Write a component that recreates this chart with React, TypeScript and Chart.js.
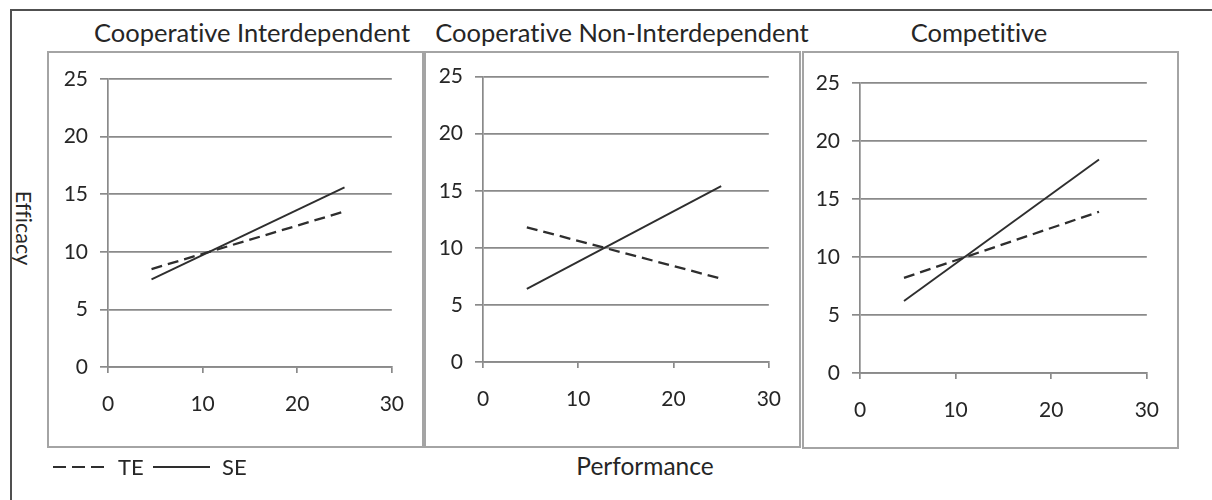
import React, { useEffect, useRef } from "react";
import { Chart, registerables } from "chart.js";

Chart.register(...registerables);

// ---- data ----
const panelTitles = ["Cooperative Interdependent", "Cooperative Non-Interdependent", "Competitive"];
const performanceX = [4.6, 25];
const coopInterTE = [8.5, 13.5];
const coopInterSE = [7.6, 15.6];
const coopNonTE = [11.8, 7.3];
const coopNonSE = [6.4, 15.4];
const compTE = [8.2, 13.9];
const compSE = [6.2, 18.4];
const yTicks = [0, 5, 10, 15, 20, 25];
const xTicks = [0, 10, 20, 30];
const seriesNames = ["TE", "SE"];
const xAxisTitle = "Performance";
const yAxisTitle = "Efficacy";

const FONT = "Lato, 'Open Sans', sans-serif";
const LINE = "#2e2e2e";
const GRID = "#8a8a8a";
const TEXT = "#262626";

type Box = { l: number; t: number; r: number; b: number };
type PanelSpec = { title: string; titleCx: number; te: number[]; se: number[]; box: Box; plot: Box };

const panels: PanelSpec[] = [
  { title: panelTitles[0], titleCx: 252, te: coopInterTE, se: coopInterSE,
    box: { l: 48, t: 52, r: 423, b: 447 }, plot: { l: 108, t: 79, r: 397, b: 367 } },
  { title: panelTitles[1], titleCx: 622, te: coopNonTE, se: coopNonSE,
    box: { l: 425, t: 52, r: 800, b: 447 }, plot: { l: 483, t: 74, r: 772, b: 362 } },
  { title: panelTitles[2], titleCx: 979, te: compTE, se: compSE,
    box: { l: 803, t: 52, r: 1178, b: 448 }, plot: { l: 860, t: 83, r: 1150, b: 373 } },
];

const textStyle: React.CSSProperties = { fontFamily: FONT, color: TEXT, lineHeight: "normal",
  whiteSpace: "nowrap", fontVariantLigatures: "none" };

function Panel({ spec }: { spec: PanelSpec }) {
  const ref = useRef<HTMLCanvasElement | null>(null);
  const { box, plot } = spec;
  const w = box.r - box.l;
  const h = box.b - box.t;
  useEffect(() => {
    if (!ref.current) return;
    const toPts = (ys: number[]) => ys.map((y, i) => ({ x: performanceX[i], y }));
    const chart = new Chart(ref.current, {
      type: "line",
      data: {
        datasets: [
          { label: seriesNames[0], data: toPts(spec.te), borderColor: LINE, borderWidth: 2.3,
            borderDash: [11, 6], pointRadius: 0, fill: false, tension: 0 },
          { label: seriesNames[1], data: toPts(spec.se), borderColor: LINE, borderWidth: 1.9,
            pointRadius: 0, fill: false, tension: 0 },
        ],
      },
      options: {
        responsive: false,
        animation: false,
        events: [],
        layout: { padding: { left: 0, top: plot.t - box.t, right: box.r - plot.r, bottom: 0 } },
        plugins: { legend: { display: false }, title: { display: false }, tooltip: { enabled: false } },
        scales: {
          x: {
            type: "linear",
            min: xTicks[0],
            max: xTicks[xTicks.length - 1],
            afterBuildTicks: (s: any) => { s.ticks = xTicks.map((v) => ({ value: v })); },
            afterFit: (s: any) => { s.height = box.b - plot.b; },
            grid: { drawOnChartArea: false, drawTicks: true, tickLength: 6, color: GRID, lineWidth: 1.7 },
            border: { display: true, color: GRID, width: 1.7 },
            ticks: { color: TEXT, padding: 19, font: { family: FONT, size: 21 }, maxRotation: 0 },
          },
          y: {
            type: "linear",
            min: yTicks[0],
            max: yTicks[yTicks.length - 1],
            afterBuildTicks: (s: any) => { s.ticks = yTicks.map((v) => ({ value: v })); },
            afterFit: (s: any) => { s.width = plot.l - box.l; },
            grid: { drawOnChartArea: true, drawTicks: true, tickLength: 8, color: GRID, lineWidth: 1.7 },
            border: { display: true, color: GRID, width: 1.7 },
            ticks: { color: TEXT, padding: 12, font: { family: FONT, size: 21 } },
          },
        },
      },
    });
    return () => chart.destroy();
  }, []);
  return (
    <>
      <div style={{ ...textStyle, position: "absolute", left: spec.titleCx - 250, width: 500, top: 17,
        textAlign: "center", fontSize: 25.5 }}>
        {spec.title}
      </div>
      <div style={{ position: "absolute", left: box.l - 1, top: box.t - 1, width: w + 2, height: h + 2,
        border: "2px solid #a4a4a4", boxSizing: "border-box" }} />
      <canvas ref={ref} width={w} height={h}
        style={{ position: "absolute", left: box.l, top: box.t, width: w, height: h }} />
    </>
  );
}

export default function App() {
  return (
    <div style={{ position: "absolute", left: 0, top: 0, width: 1212, height: 500, background: "#fff",
      overflow: "hidden", fontFamily: FONT }}>
      <div style={{ position: "absolute", left: 10, top: 9, width: 1202, height: 491,
        borderTop: "2px solid #505050", borderLeft: "2px solid #505050", boxSizing: "border-box" }} />
      {panels.map((p, i) => <Panel key={i} spec={p} />)}
      <div style={{ ...textStyle, position: "absolute", left: 24 - 60, top: 228 - 13, width: 120, height: 26,
        transform: "rotate(90deg)", textAlign: "center", fontSize: 21.5, lineHeight: "26px" }}>
        {yAxisTitle}
      </div>
      <div style={{ ...textStyle, position: "absolute", left: 645 - 100, width: 200, top: 451, textAlign: "center",
        fontSize: 24.5 }}>
        {xAxisTitle}
      </div>
      <svg style={{ position: "absolute", left: 0, top: 0 }} width={260} height={500}>
        <line x1={53} y1={467} x2={110} y2={467} stroke={LINE} strokeWidth={2.2} strokeDasharray="13 6" />
        <line x1={153} y1={467} x2={210} y2={467} stroke={LINE} strokeWidth={1.9} />
      </svg>
      <div style={{ ...textStyle, position: "absolute", left: 118, top: 453, fontSize: 22 }}>
        {seriesNames[0]}
      </div>
      <div style={{ ...textStyle, position: "absolute", left: 222, top: 453, fontSize: 22 }}>
        {seriesNames[1]}
      </div>
    </div>
  );
}
